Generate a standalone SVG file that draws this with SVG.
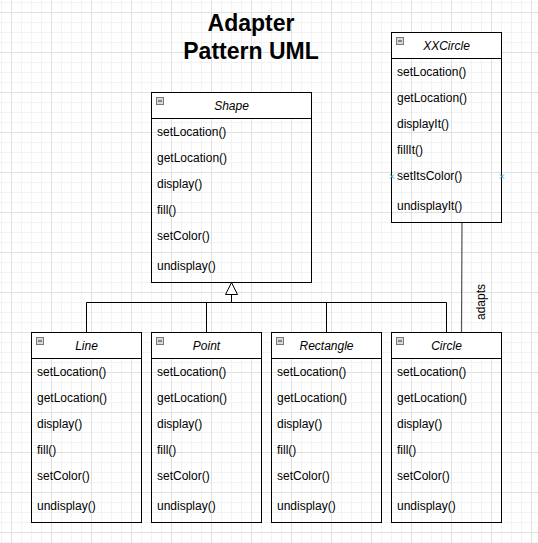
<svg xmlns="http://www.w3.org/2000/svg" width="538" height="543" viewBox="0 0 538 543">
<style>
.box{fill:none;stroke:#000;stroke-width:1}
.hdr{fill:#fff;stroke:#000;stroke-width:1}
.ttl{font-family:"Liberation Sans",Arial,sans-serif;font-size:12px;font-style:italic;fill:#000;text-anchor:middle}
.row{font-family:"Liberation Sans",Arial,sans-serif;font-size:12px;fill:#000}
.ico{fill:#d8d8d8;stroke:#7a7a7a;stroke-width:1}
.icm{stroke:#333;stroke-width:1}
.edge{fill:none;stroke:#000;stroke-width:1}
.title{font-family:"Liberation Sans",Arial,sans-serif;font-size:23px;font-weight:bold;fill:#000;text-anchor:middle}
.pt{stroke:#29a8e0;stroke-width:1}
</style>
<defs>
<pattern id="minor" patternUnits="userSpaceOnUse" x="1" y="2" width="10" height="10">
<path d="M0 0.5H10M0.5 0V10" fill="none" stroke="#f3f3f3" stroke-width="1"/>
</pattern>
<pattern id="major" patternUnits="userSpaceOnUse" x="11" y="12" width="40" height="40">
<path d="M0 0.5H40M0.5 0V40" fill="none" stroke="#e0e0e0" stroke-width="1"/>
</pattern>
<g id="icon">
<rect class="ico" x="5.5" y="5.5" width="7" height="7"/>
<line class="icm" x1="7" y1="9" x2="11" y2="9"/>
</g>
</defs>
<rect width="538" height="543" fill="#fff"/>
<rect width="538" height="543" fill="url(#minor)"/>
<rect width="538" height="543" fill="url(#major)"/>

<g id="title">
<text class="title" x="251" y="30.5">Adapter</text>
<text class="title" x="251" y="58.5">Pattern UML</text>
</g>

<g id="connectors">
<polygon points="231.5,282.5 225.5,294.5 237.5,294.5" fill="#fff" stroke="#000" stroke-width="1"/>
<path class="edge" d="M231.5 294.5V302.5M86.5 302.5H446.5M86.5 302.5V332.5M206.5 302.5V332.5M326.5 302.5V332.5M446.5 302.5V332.5"/>
<line x1="462" y1="222.5" x2="461.5" y2="332.5" stroke="#555" stroke-width="1.2"/>
<text class="row" transform="translate(485,302) rotate(-90)" text-anchor="middle">adapts</text>
</g>

<g id="shape">
<rect class="hdr" x="151.5" y="92.5" width="160" height="26"/>
<rect class="box" x="151.5" y="92.5" width="160" height="190"/>
<use href="#icon" x="151" y="92"/>
<text class="ttl" x="231.5" y="110">Shape</text>
<text class="row" x="157" y="136">setLocation()</text>
<text class="row" x="157" y="161.5">getLocation()</text>
<text class="row" x="157" y="188">display()</text>
<text class="row" x="157" y="214">fill()</text>
<text class="row" x="157" y="240">setColor()</text>
<text class="row" x="157" y="270">undisplay()</text>
</g>

<g id="xxcircle">
<rect class="hdr" x="391.5" y="32.5" width="110" height="26"/>
<rect class="box" x="391.5" y="32.5" width="110" height="190"/>
<use href="#icon" x="391" y="32"/>
<text class="ttl" x="446.5" y="50">XXCircle</text>
<text class="row" x="397" y="76">setLocation()</text>
<text class="row" x="397" y="101.5">getLocation()</text>
<text class="row" x="397" y="128">displayIt()</text>
<text class="row" x="397" y="154">fillIt()</text>
<text class="row" x="397" y="180">setItsColor()</text>
<text class="row" x="397" y="210">undisplayIt()</text>
<path class="pt" d="M390 174.5L394 178.5M394 174.5L390 178.5M500 174.5L504 178.5M504 174.5L500 178.5"/>
</g>

<g id="line">
<rect class="hdr" x="31.5" y="332.5" width="110" height="26"/>
<rect class="box" x="31.5" y="332.5" width="110" height="190"/>
<use href="#icon" x="31" y="332"/>
<text class="ttl" x="86.5" y="350">Line</text>
<text class="row" x="37" y="376">setLocation()</text>
<text class="row" x="37" y="401.5">getLocation()</text>
<text class="row" x="37" y="428">display()</text>
<text class="row" x="37" y="454">fill()</text>
<text class="row" x="37" y="480">setColor()</text>
<text class="row" x="37" y="510">undisplay()</text>
</g>

<g id="point">
<rect class="hdr" x="151.5" y="332.5" width="110" height="26"/>
<rect class="box" x="151.5" y="332.5" width="110" height="190"/>
<use href="#icon" x="151" y="332"/>
<text class="ttl" x="206.5" y="350">Point</text>
<text class="row" x="157" y="376">setLocation()</text>
<text class="row" x="157" y="401.5">getLocation()</text>
<text class="row" x="157" y="428">display()</text>
<text class="row" x="157" y="454">fill()</text>
<text class="row" x="157" y="480">setColor()</text>
<text class="row" x="157" y="510">undisplay()</text>
</g>

<g id="rectangle">
<rect class="hdr" x="271.5" y="332.5" width="110" height="26"/>
<rect class="box" x="271.5" y="332.5" width="110" height="190"/>
<use href="#icon" x="271" y="332"/>
<text class="ttl" x="326.5" y="350">Rectangle</text>
<text class="row" x="277" y="376">setLocation()</text>
<text class="row" x="277" y="401.5">getLocation()</text>
<text class="row" x="277" y="428">display()</text>
<text class="row" x="277" y="454">fill()</text>
<text class="row" x="277" y="480">setColor()</text>
<text class="row" x="277" y="510">undisplay()</text>
</g>

<g id="circle">
<rect class="hdr" x="391.5" y="332.5" width="110" height="26"/>
<rect class="box" x="391.5" y="332.5" width="110" height="190"/>
<use href="#icon" x="391" y="332"/>
<text class="ttl" x="446.5" y="350">Circle</text>
<text class="row" x="397" y="376">setLocation()</text>
<text class="row" x="397" y="401.5">getLocation()</text>
<text class="row" x="397" y="428">display()</text>
<text class="row" x="397" y="454">fill()</text>
<text class="row" x="397" y="480">setColor()</text>
<text class="row" x="397" y="510">undisplay()</text>
</g>
</svg>
